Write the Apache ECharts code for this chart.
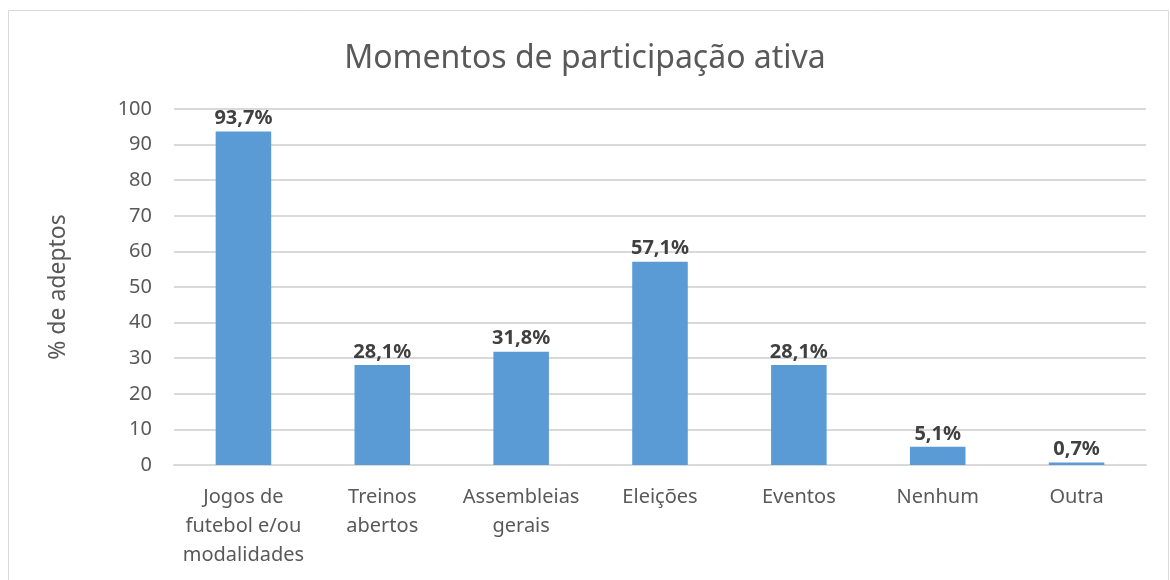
<!DOCTYPE html>
<html>
<head>
<meta charset="utf-8">
<script src="https://cdn.jsdelivr.net/npm/echarts@6/dist/echarts.min.js"></script>
<style>
  html, body { margin: 0; padding: 0; background: #fff; }
  #chart { width: 1170px; height: 580px; }
</style>
</head>
<body>
<div id="chart"></div>
<script>
// dados do gráfico
const categories = [
  "Jogos de\nfutebol e/ou\nmodalidades",
  "Treinos\nabertos",
  "Assembleias\ngerais",
  "Eleições",
  "Eventos",
  "Nenhum",
  "Outra"
];
const values = [93.7, 28.1, 31.8, 57.1, 28.1, 5.1, 0.7];
const yTicks = [0, 10, 20, 30, 40, 50, 60, 70, 80, 90, 100];

const font = "Noto Sans";
const myChart = echarts.init(document.getElementById("chart"));

const option = {
  animation: false,
  textStyle: { fontFamily: font },
  graphic: [
    {
      type: "rect",
      shape: { x: 8.5, y: 10.5, width: 1160, height: 620 },
      style: { fill: "none", stroke: "#d9d9d9", lineWidth: 1 },
      silent: true
    }
  ],
  title: {
    text: "Momentos de participação ativa",
    left: "center",
    top: 38,
    textStyle: { fontFamily: font, fontSize: 32, fontWeight: "normal", color: "#595959" }
  },
  grid: { left: 174, right: 24, top: 109, bottom: 115 },
  xAxis: {
    type: "category",
    data: categories,
    axisLine: { show: true, lineStyle: { color: "#d9d9d9", width: 2 } },
    axisTick: { show: false },
    axisLabel: {
      color: "#595959",
      fontSize: 20,
      lineHeight: 29,
      margin: 18,
      interval: 0
    }
  },
  yAxis: {
    type: "value",
    min: yTicks[0],
    max: yTicks[yTicks.length - 1],
    interval: 10,
    name: "% de adeptos",
    nameLocation: "middle",
    nameGap: 104,
    nameTextStyle: { color: "#595959", fontSize: 23 },
    axisLine: { show: false },
    axisTick: { show: false },
    axisLabel: { color: "#595959", fontSize: 20, margin: 22 },
    splitLine: { lineStyle: { color: "#d9d9d9", width: 2 } }
  },
  series: [
    {
      type: "bar",
      data: values,
      barWidth: "40%",
      itemStyle: { color: "#5b9bd5" },
      label: {
        show: true,
        position: "top",
        distance: 3,
        color: "#404040",
        fontWeight: "bold",
        fontSize: 20,
        formatter: (p) => p.value.toFixed(1).replace(".", ",") + "%"
      }
    }
  ]
};

myChart.setOption(option);
</script>
</body>
</html>
